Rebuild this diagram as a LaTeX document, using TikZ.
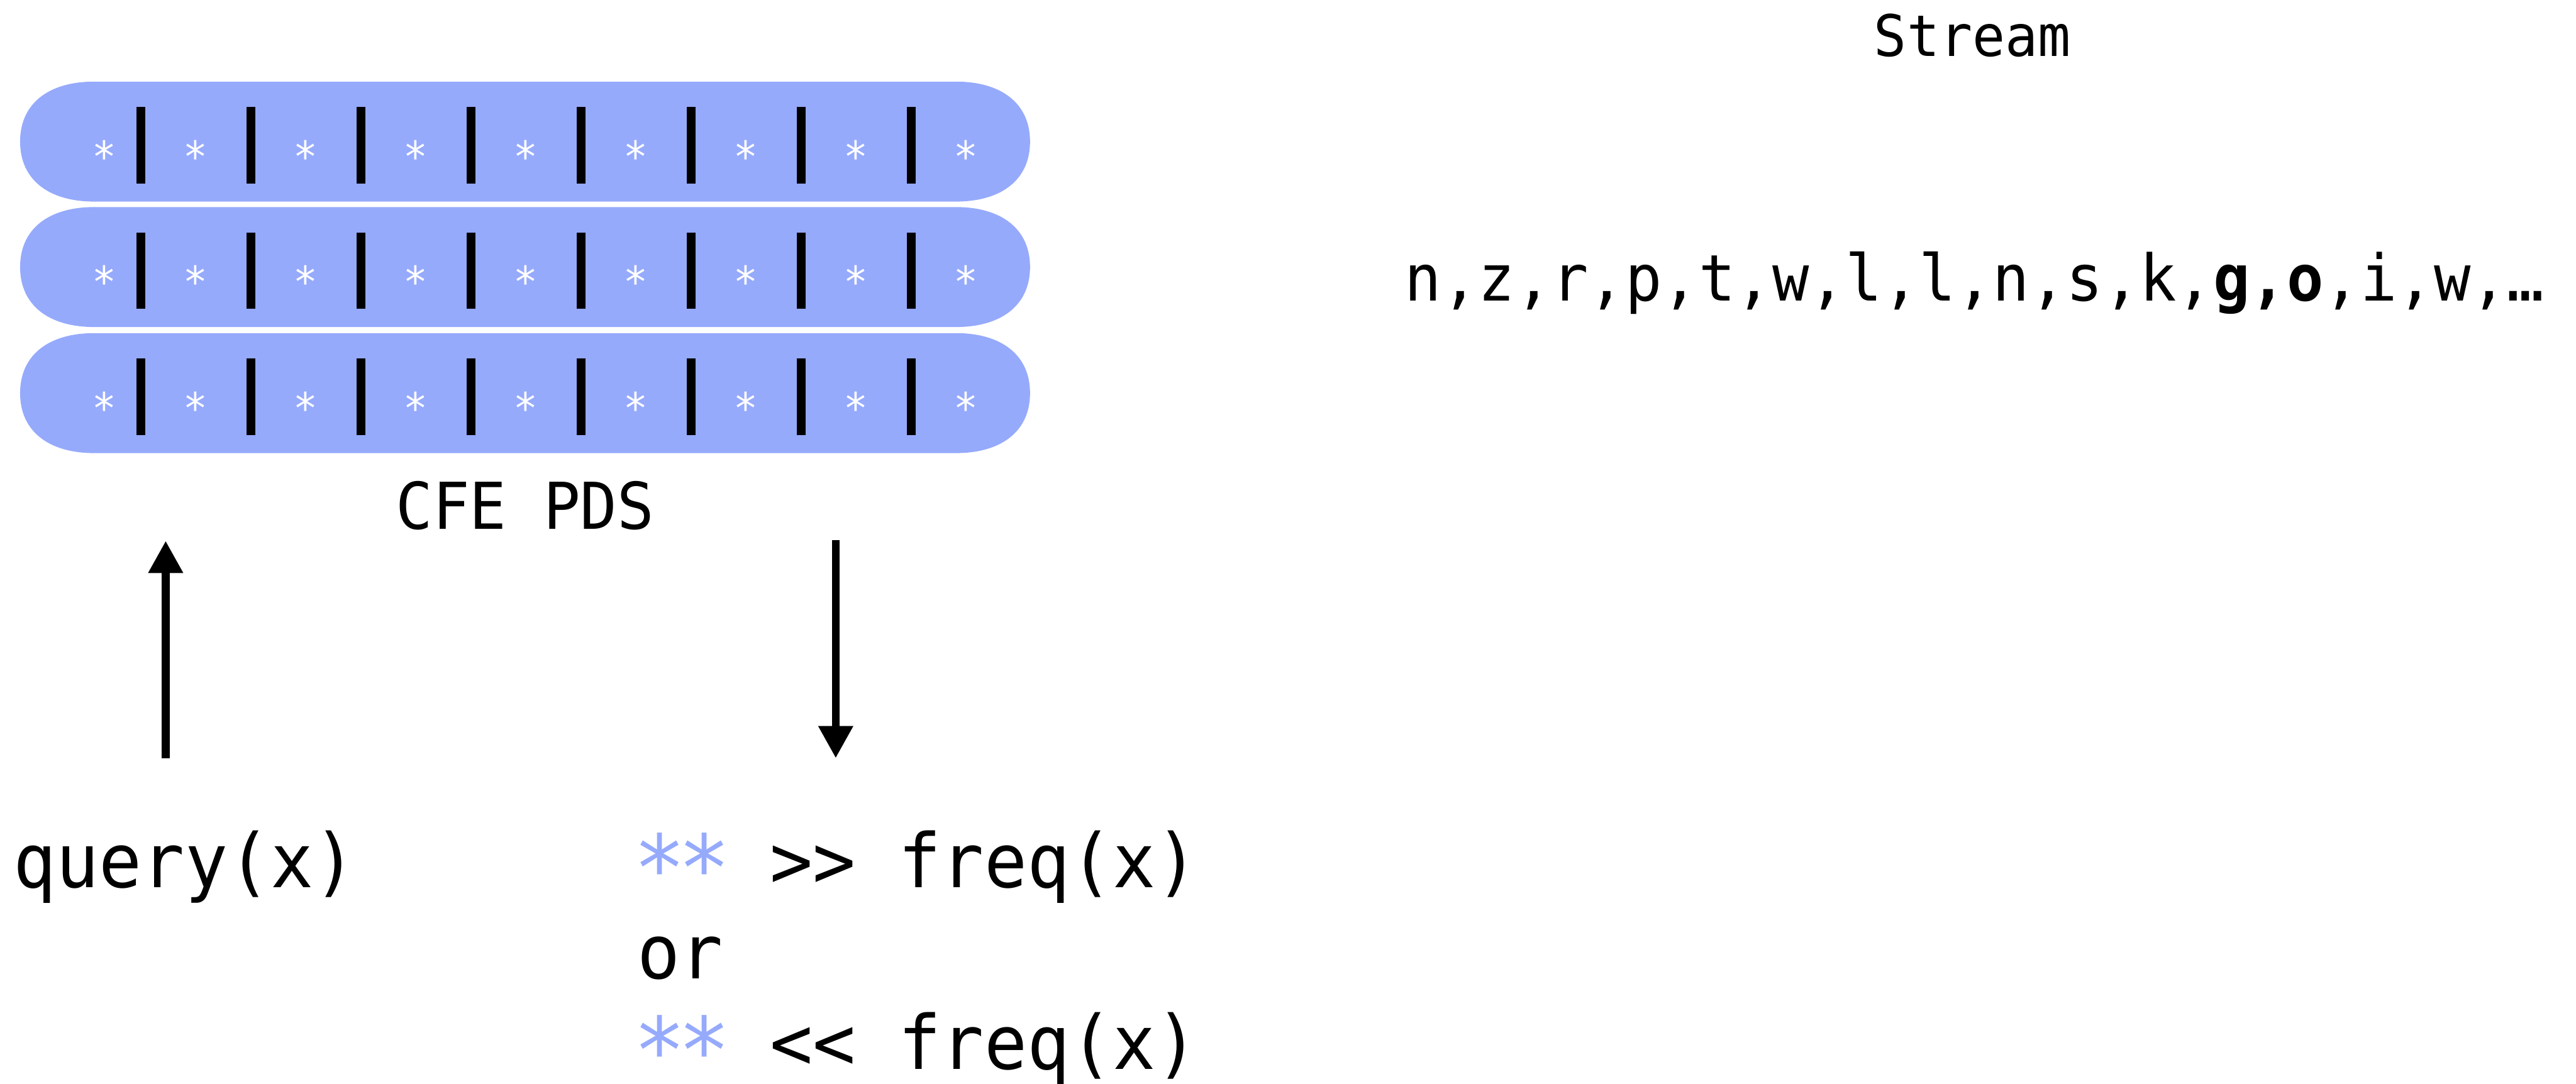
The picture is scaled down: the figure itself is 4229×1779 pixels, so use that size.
\documentclass[tikz,border=0pt]{standalone}
\usepackage{fontspec}
\setmainfont{DejaVu Sans Mono}[FakeStretch=0.95]
\usetikzlibrary{arrows.meta}
\definecolor{rowblue}{RGB}{150,170,252}
\newcommand\ansstar{\makebox[0.6em][c]{\raisebox{-22pt}{\fontsize{150}{150}\selectfont *}}}
\tikzset{
  bar/.style={fill=black},
  starlbl/.style={text=white, font=\fontsize{70}{70}\selectfont, inner sep=0pt, anchor=base},
  biglbl/.style={font=\fontsize{123}{140}\selectfont, inner sep=0pt, anchor=base west},
  midlbl/.style={font=\fontsize{106}{120}\selectfont, inner sep=0pt},
  flow/.style={line width=13pt, -{Triangle[width=54pt,length=53pt]}}
}
\begin{document}
\begin{tikzpicture}[x=1pt,y=-1pt]
\useasboundingbox (0,0) rectangle (4229,1779);
% three rows of the CFE PDS
\foreach \t [count=\r] in {134,340,547}{
  \pgfmathsetmacro{\b}{\t+197}
  \pgfmathsetmacro{\c}{\t+98.5}
  \pgfmathsetmacro{\cu}{\c-62}
  \pgfmathsetmacro{\cd}{\c+62}
  \fill[rowblue] (155,\t) -- (1569,\t) .. controls (1645,\t) and (1691,\cu) .. (1691,\c)
     .. controls (1691,\cd) and (1645,\b) .. (1569,\b) -- (155,\b)
     .. controls (79,\b) and (33,\cd) .. (33,\c)
     .. controls (33,\cu) and (79,\t) .. (155,\t) -- cycle;
  \pgfmathsetmacro{\bt}{\t+42}
  \pgfmathsetmacro{\bb}{\t+167}
  \foreach \i in {0,...,7}{
    \pgfmathsetmacro{\bx}{231+180.7*\i}
    \fill[bar] (\bx-7,\bt) rectangle (\bx+7,\bb);
  }
  \pgfmathsetmacro{\sy}{\t+148}
  \node[starlbl] (s\r-0) at (171,\sy) {*};
  \foreach \i in {1,...,8}{
    \pgfmathsetmacro{\sx}{321+180.7*(\i-1)}
    \node[starlbl] (s\r-\i) at (\sx,\sy) {*};
  }
}
\node[midlbl, anchor=base] (pds) at (862,869) {CFE PDS};
\node[font=\fontsize{94}{100}\selectfont, inner sep=0pt, anchor=base] (stream) at (3238,92) {Stream};
\node[font=\fontsize{105.5}{120}\selectfont, inner sep=0pt, anchor=base west] (seq) at (2306,494)
  {n,z,r,p,t,w,l,l,n,s,k,\textbf{g,o},i,w,…};
\node[biglbl] (query) at (22,1457) {query(x)};
\node[biglbl] (ans1) at (1046,1457) {\textcolor{rowblue}{\ansstar\ansstar} >{}> freq(x)};
\node[biglbl] (or) at (1046,1607) {or};
\node[biglbl] (ans2) at (1046,1756) {\textcolor{rowblue}{\ansstar\ansstar} <{}< freq(x)};
\coordinate (qa) at (272,1245);
\coordinate (qb) at (272,888);
\coordinate (ra) at (1372,887);
\coordinate (rb) at (1372,1245);
\draw[flow] (qa) -- (qb);
\draw[flow] (ra) -- (rb);
\end{tikzpicture}
\end{document}
